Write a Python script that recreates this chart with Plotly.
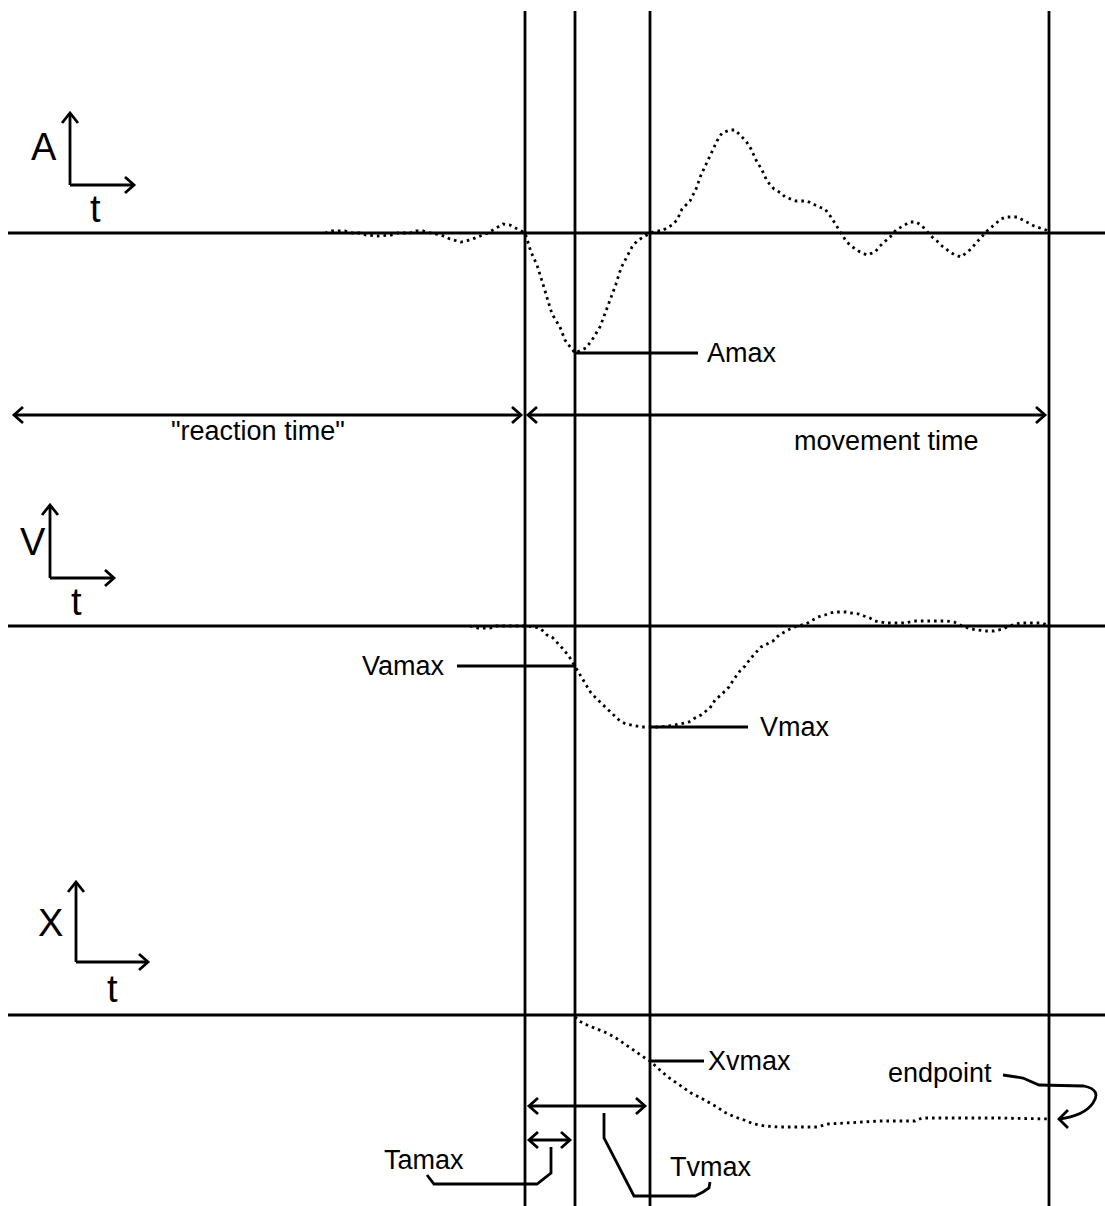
import plotly.graph_objects as go

W, H = 1105, 1206

# ---------------- data (time axis units, value = height above baseline) -------------
event_times = [525, 575, 650, 1049]          # onset, T(Amax), T(Vmax), end
t_onset, t_amax, t_vmax, t_end = event_times

a_t = [325, 332, 345, 352, 360, 366, 378, 391, 398, 410, 416, 423, 430, 441, 450, 461, 470, 480,
       488, 493, 503, 510, 516, 521, 525, 531, 537, 542, 547, 552, 560, 565, 571, 575, 586, 592,
       600, 605, 611, 616, 621, 627, 632, 637, 645, 655, 661, 667, 672, 677, 682, 690, 696, 701,
       706, 712, 717, 722, 730, 735, 740, 746, 751, 756, 762, 767, 774, 781, 785, 791, 796, 802,
       807, 813, 819, 825, 831, 836, 846, 851, 860, 867, 875, 880, 886, 891, 896, 905, 910, 916,
       921, 926, 931, 937, 942, 950, 955, 961, 966, 971, 976, 982, 987, 994, 1001, 1006, 1012,
       1017, 1021, 1027, 1034, 1040, 1046, 1050]
a_val = [0, 2, 2, 0, 0, -2, -3, -2, 0, 0, 2, 2, 0, -2, -6, -9, -7, -3,
         0, 3, 9, 8, 5, 2, 0, -19, -32, -48, -65, -81, -94, -107, -115, -120, -115, -107,
         -94, -81, -65, -51, -35, -24, -14, -8, -3, 2, 2, 5, 8, 13, 24, 32, 44, 58,
         69, 81, 92, 100, 103, 103, 98, 92, 84, 73, 63, 52, 44, 40, 36, 34, 32, 32,
         32, 29, 26, 24, 16, 8, -8, -13, -19, -22, -19, -13, -8, -3, 3, 8, 11, 11,
         8, 3, -3, -8, -13, -19, -22, -24, -20, -16, -10, -3, 2, 8, 14, 16, 16,
         16, 14, 11, 7, 5, 3, 0]

v_t = [470, 478, 490, 496, 525, 535, 541, 547, 552, 559, 564, 570, 575, 580, 586, 591, 599, 604,
       609, 615, 620, 626, 631, 637, 642, 650, 660, 675, 680, 689, 695, 701, 706, 710, 715, 721,
       729, 734, 740, 745, 751, 756, 761, 767, 773, 779, 784, 790, 797, 806, 811, 818, 825, 830,
       835, 841, 846, 851, 859, 864, 870, 875, 880, 886, 898, 905, 914, 921, 932, 946, 954, 962,
       971, 978, 986, 994, 1003, 1009, 1020, 1042, 1050]
v_val = [0, -2, -2, 0, 0, -1, -3, -9, -11, -19, -24, -32, -40, -48, -58, -67, -75, -80,
         -85, -90, -95, -98, -99, -100, -101, -101, -101, -99, -98, -96, -92, -89, -85, -82, -74, -69,
         -61, -53, -45, -40, -32, -26, -21, -18, -15, -9, -6, -3, 0, 2, 5, 9, 11, 13,
         14, 14, 14, 13, 12, 10, 8, 5, 4, 3, 3, 3, 5, 5, 5, 5, 4, 0,
         -3, -4, -5, -5, -3, 0, 3, 3, 0]

x_t = [575, 579, 587, 598, 607, 616, 623, 630, 638, 645, 650, 654, 661, 668, 675, 683, 691, 699,
       708, 717, 724, 735, 744, 754, 765, 778, 800, 817, 828, 843, 857, 880, 915, 922, 936, 1000,
       1049]
x_val = [-2, -6, -10, -14, -18, -23, -28, -33, -38, -43, -46, -50, -56, -62, -67, -73, -78, -82,
         -87, -92, -97, -102, -105, -109, -111, -112, -112, -112, -109, -108, -107, -106, -106, -103,
         -103, -103, -104]

labels = {"A": "A", "V": "V", "X": "X", "t": "t"}

# ---------------- layout geometry (pixels) ----------------
BASE_A, BASE_V, BASE_X = 233, 626, 1015
FONT = "Liberation Sans, Arial, sans-serif"
LW = 2.8
TS = 27

fig = go.Figure()

dot = dict(color="black", width=2.8, dash="2.6px,4px")
fig.add_trace(go.Scatter(x=a_t, y=a_val, mode="lines", line=dot, yaxis="y2", hoverinfo="skip"))
fig.add_trace(go.Scatter(x=v_t, y=v_val, mode="lines", line=dot, yaxis="y3", hoverinfo="skip"))
fig.add_trace(go.Scatter(x=x_t, y=x_val, mode="lines", line=dot, yaxis="y4", hoverinfo="skip"))

shapes = []


def seg(x0, y0, x1, y1, yref="y", w=LW):
    shapes.append(dict(type="line", x0=x0, y0=y0, x1=x1, y1=y1, xref="x", yref=yref,
                       line=dict(color="black", width=w)))


def path(d, w=LW):
    shapes.append(dict(type="path", path=d, xref="x", yref="y",
                       line=dict(color="black", width=w)))


def harrow(x0, x1, y, w=LW):
    seg(x0, y, x1, y, w=w)
    path(f"M{x0+9},{y-8} L{x0},{y} L{x0+9},{y+8}", w)
    path(f"M{x1-9},{y-8} L{x1},{y} L{x1-9},{y+8}", w)


def axis_icon(x, ytop, ybot, xright):
    seg(x, ybot, x, ytop)
    seg(x, ybot, xright, ybot)
    path(f"M{x-8},{ytop+10} L{x},{ytop} L{x+8},{ytop+10}")
    path(f"M{xright-9},{ybot-8} L{xright},{ybot} L{xright-9},{ybot+8}")


# baselines
for ref in ["y2", "y3", "y4"]:
    seg(8, 0, W, 0, yref=ref)

# event lines
for t in event_times:
    seg(t, 11, t, H, w=2.8)

# axis icons
axis_icon(70, 113, 185, 134)
axis_icon(50, 505, 578, 114)
axis_icon(76, 882, 962, 148)

# duration arrows
harrow(14, t_onset - 4, 415)
harrow(t_onset + 3, t_end - 4, 415)
harrow(t_onset + 4, t_vmax - 5, 1106)
harrow(t_onset + 4, t_amax - 5, 1140)

# leader lines to the peak values
a_min = min(a_val)
v_at_amax = v_val[v_t.index(t_amax)]
v_min = min(v_val)
x_at_vmax = x_val[x_t.index(t_vmax)]
seg(t_amax, a_min, 698, a_min, yref="y2")
seg(457, v_at_amax, t_amax, v_at_amax, yref="y3")
seg(t_vmax, v_min, 748, v_min, yref="y3")
seg(t_vmax, x_at_vmax, 704, x_at_vmax, yref="y4")

# Tamax / Tvmax leaders
path("M551,1147 L551,1173 L537,1184 L434,1184 L427,1175")
path("M604,1113 L604,1138 L634,1196 L695,1196 L703,1192 L709,1188 L710,1182")
# endpoint curly arrow
path("M1003,1075 L1023,1078 L1039,1085 L1084,1086 Q1102,1090 1093,1103 Q1084,1116 1059,1119")
path("M1068,1110 L1059,1119 L1068,1128")

ann = []


def text(x, y, s, size=TS, xanchor="center", yref="y"):
    ann.append(dict(x=x, y=y, xref="x", yref=yref, text=s, showarrow=False,
                    xanchor=xanchor, yanchor="middle",
                    font=dict(family=FONT, size=size, color="black")))


text(44, 147, labels["A"], 38)
text(95, 209, labels["t"], 38)
text(33, 542, labels["V"], 38)
text(76, 602, labels["t"], 38)
text(50, 923, labels["X"], 38)
text(112, 989, labels["t"], 38)

text(258, 431, '"reaction time"')
text(886, 441, "movement time")
text(705, a_min, "Amax", TS, "left", "y2")
text(447, v_at_amax, "Vamax", TS, "right", "y3")
text(758, v_min, "Vmax", TS, "left", "y3")
text(706, x_at_vmax, "Xvmax", TS, "left", "y4")
text(886, 1073, "endpoint", TS, "left")
text(424, 1160, "Tamax")
text(711, 1167, "Tvmax")

noax = dict(visible=False, showgrid=False, zeroline=False, fixedrange=True)
fig.update_layout(
    width=W, height=H,
    margin=dict(l=0, r=0, t=0, b=0),
    paper_bgcolor="white", plot_bgcolor="white",
    showlegend=False,
    xaxis=dict(range=[0, W], **noax),
    yaxis=dict(range=[H, 0], domain=[0, 1], **noax),
    yaxis2=dict(range=[BASE_A - H, BASE_A], overlaying="y", **noax),
    yaxis3=dict(range=[BASE_V - H, BASE_V], overlaying="y", **noax),
    yaxis4=dict(range=[BASE_X - H, BASE_X], overlaying="y", **noax),
    shapes=shapes, annotations=ann,
)

fig.write_html("out.html")
